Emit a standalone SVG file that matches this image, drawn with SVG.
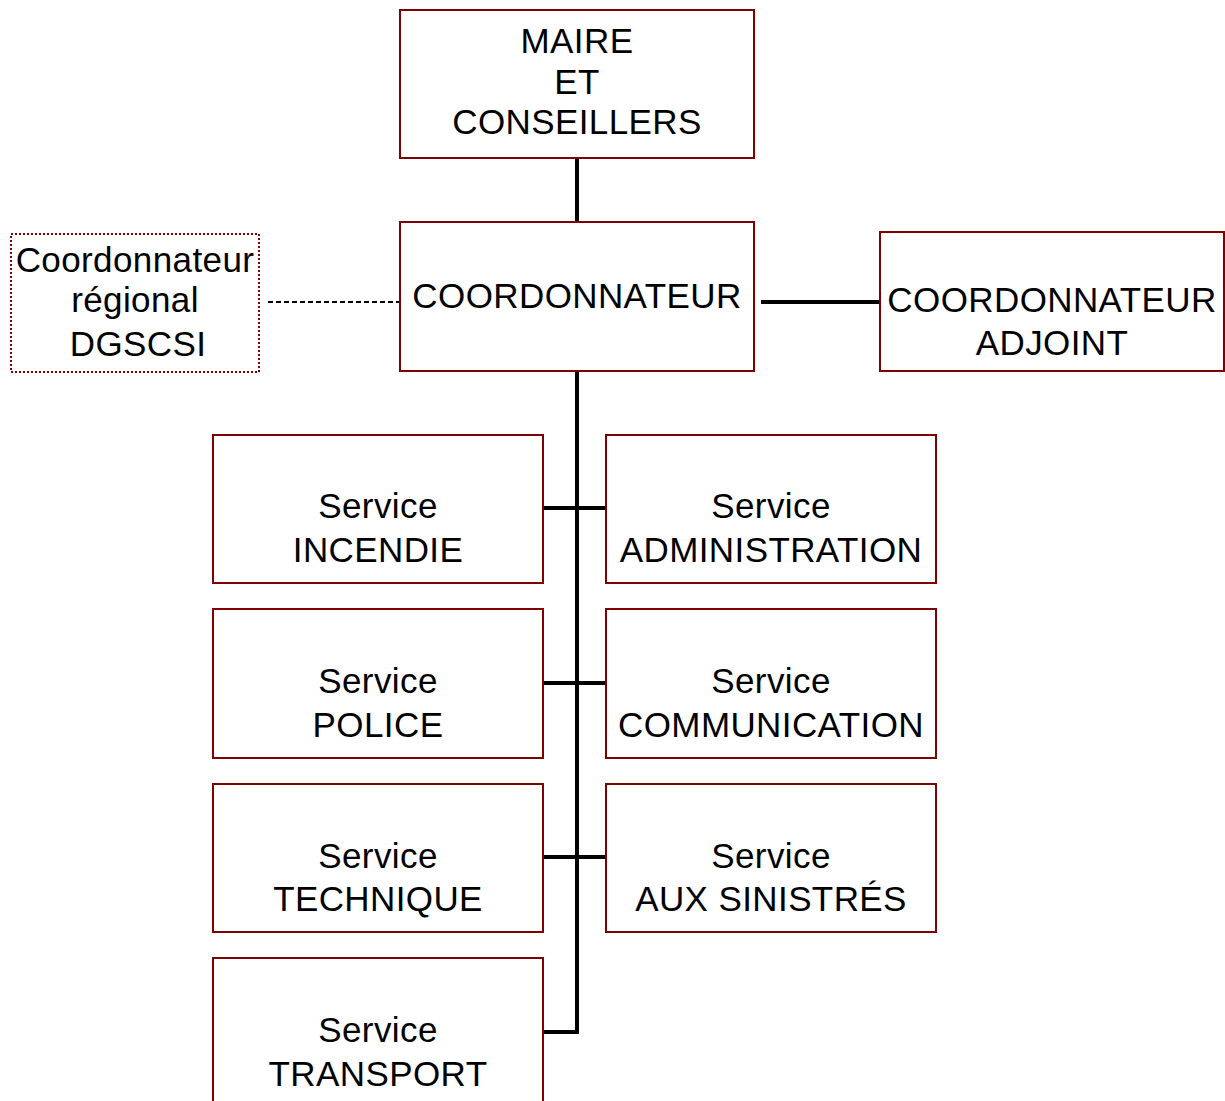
<svg xmlns="http://www.w3.org/2000/svg" width="1225" height="1101" viewBox="0 0 1225 1101">
<style>
.box{fill:#fff;stroke:#800000;stroke-width:2}
.dot{fill:#fff;stroke:#800000;stroke-width:2;stroke-dasharray:2 2}
.t{font-family:"Liberation Sans",Arial,sans-serif;font-size:35px;fill:#000;text-anchor:middle;letter-spacing:0.4px}
.ln{fill:none;stroke:#000;stroke-width:4}
.dash{fill:none;stroke:#000;stroke-width:1.8;stroke-dasharray:5 3}
</style>
<rect width="1225" height="1101" fill="#fff"/>
<g id="connectors">
<line class="ln" x1="577" y1="158" x2="577" y2="222"/>
<polyline class="ln" points="577,371 577,1032 543,1032"/>
<line class="ln" x1="543" y1="508" x2="606" y2="508"/>
<line class="ln" x1="543" y1="683" x2="606" y2="683"/>
<line class="ln" x1="543" y1="857" x2="606" y2="857"/>
<line class="ln" x1="761" y1="302" x2="880" y2="302"/>
<line class="dash" x1="268" y1="302" x2="400" y2="302"/>
</g>
<g id="maire">
<rect class="box" x="400" y="10" width="354" height="148"/>
<text class="t" x="577" y="53">MAIRE</text>
<text class="t" x="577" y="94">ET</text>
<text class="t" x="577" y="134">CONSEILLERS</text>
</g>
<g id="coordonnateur">
<rect class="box" x="400" y="222" width="354" height="149"/>
<text class="t" x="577" y="308">COORDONNATEUR</text>
</g>
<g id="regional">
<rect class="dot" x="11" y="234" width="248" height="138"/>
<text class="t" x="135" y="272">Coordonnateur</text>
<text class="t" x="135" y="312">régional</text>
<text class="t" x="138" y="356">DGSCSI</text>
</g>
<g id="adjoint">
<rect class="box" x="880" y="232" width="344" height="139"/>
<text class="t" x="1052" y="312">COORDONNATEUR</text>
<text class="t" x="1052" y="355">ADJOINT</text>
</g>
<g id="incendie">
<rect class="box" x="213" y="435" width="330" height="148"/>
<text class="t" x="378" y="518">Service</text>
<text class="t" x="378" y="562">INCENDIE</text>
</g>
<g id="administration">
<rect class="box" x="606" y="435" width="330" height="148"/>
<text class="t" x="771" y="518">Service</text>
<text class="t" x="771" y="562">ADMINISTRATION</text>
</g>
<g id="police">
<rect class="box" x="213" y="609" width="330" height="149"/>
<text class="t" x="378" y="693">Service</text>
<text class="t" x="378" y="737">POLICE</text>
</g>
<g id="communication">
<rect class="box" x="606" y="609" width="330" height="149"/>
<text class="t" x="771" y="693">Service</text>
<text class="t" x="771" y="737">COMMUNICATION</text>
</g>
<g id="technique">
<rect class="box" x="213" y="784" width="330" height="148"/>
<text class="t" x="378" y="868">Service</text>
<text class="t" x="378" y="911">TECHNIQUE</text>
</g>
<g id="sinistres">
<rect class="box" x="606" y="784" width="330" height="148"/>
<text class="t" x="771" y="868">Service</text>
<text class="t" x="771" y="911">AUX SINISTRÉS</text>
</g>
<g id="transport">
<rect class="box" x="213" y="958" width="330" height="160"/>
<text class="t" x="378" y="1042">Service</text>
<text class="t" x="378" y="1086">TRANSPORT</text>
</g>
</svg>
